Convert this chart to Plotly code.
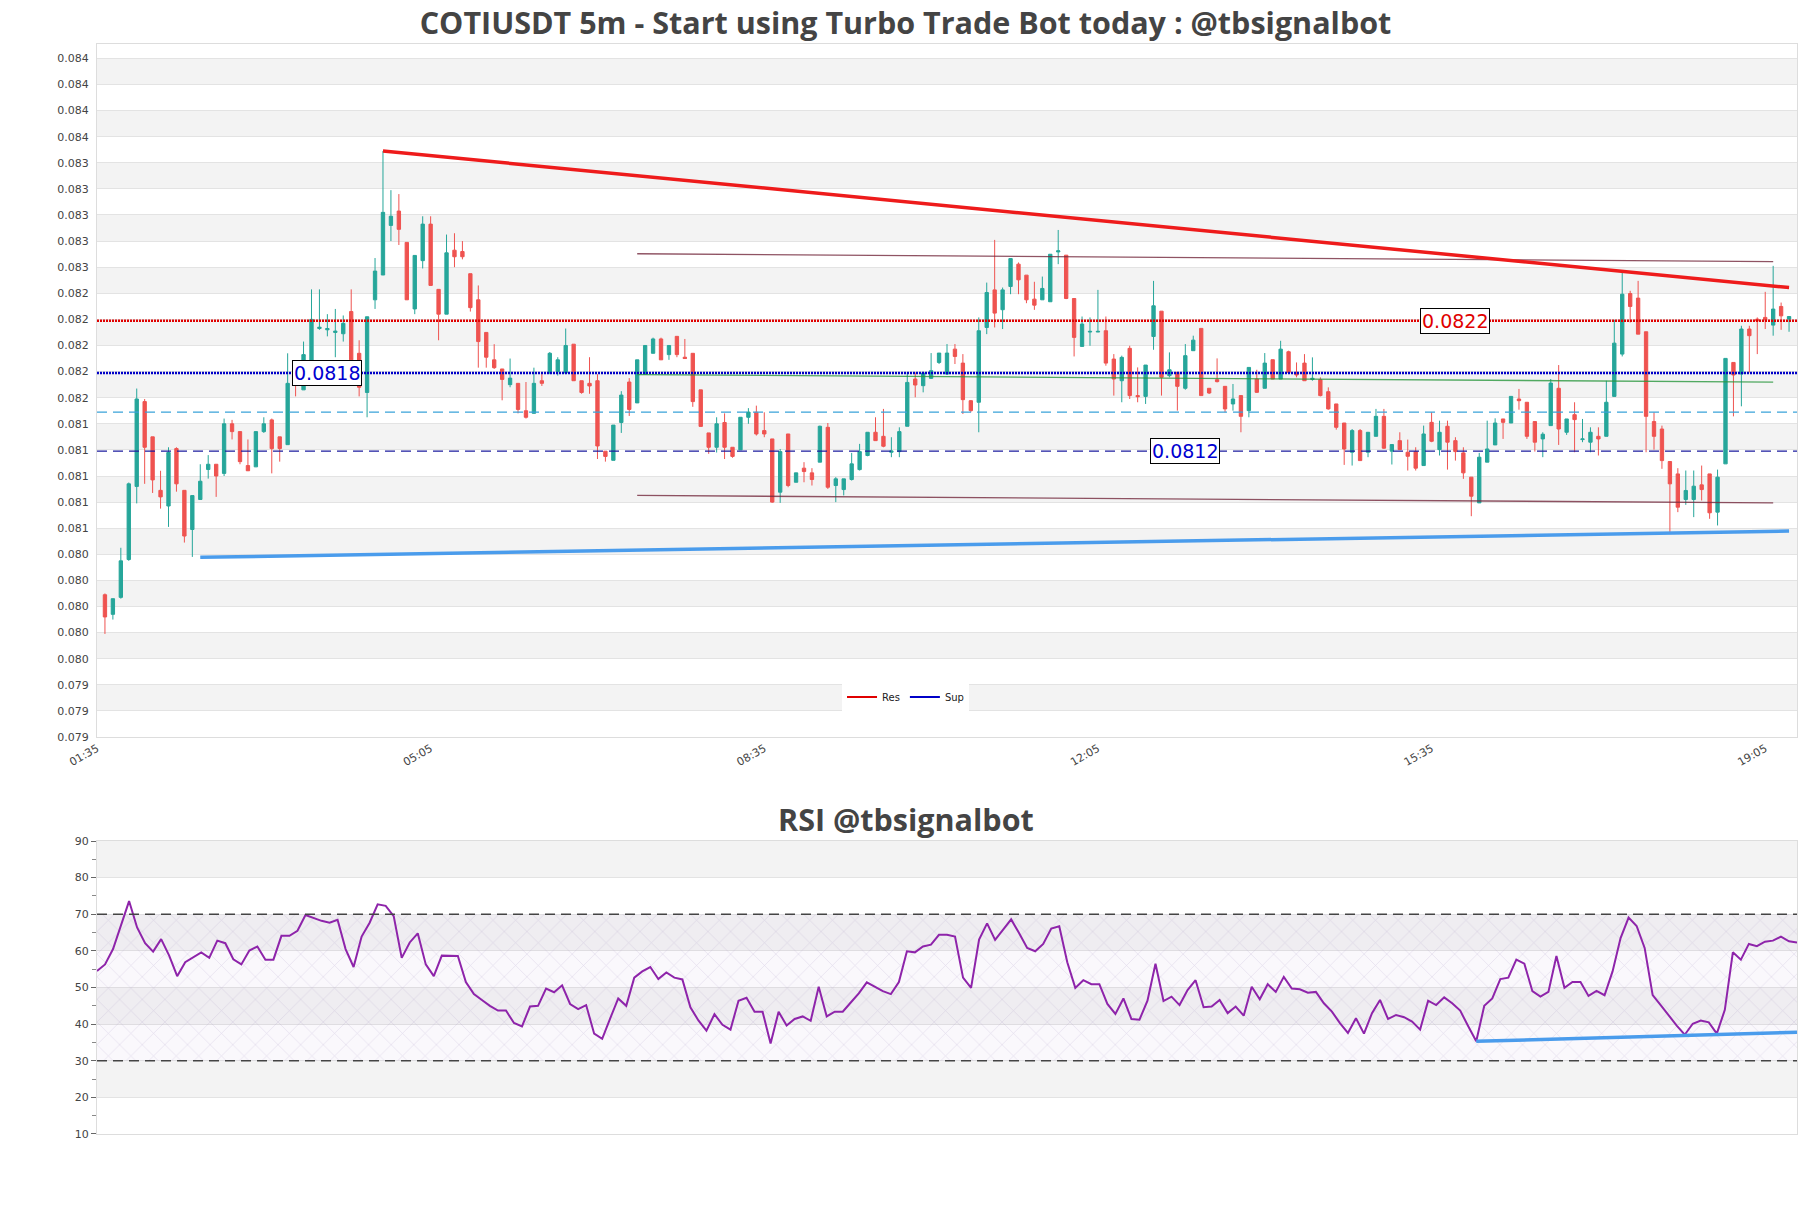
import pandas as pd
import plotly.graph_objects as go

# ---------------- data ----------------
DAY = "2024-01-01 "
FIRST_CANDLE = "01:40"
OPEN = [0.08009, 0.07994, 0.08007, 0.08036, 0.08092, 0.08157, 0.08130, 0.08089, 0.08077, 0.08121,
        0.08089, 0.08059, 0.08082, 0.08105, 0.08109, 0.08102, 0.08140, 0.08134, 0.08108, 0.08107,
        0.08134, 0.08143, 0.08130, 0.08124, 0.08174, 0.08166, 0.08187, 0.08213, 0.08212, 0.08210,
        0.08209, 0.08226, 0.08194, 0.08164, 0.08235, 0.08254, 0.08292, 0.08303, 0.08279, 0.08228,
        0.08265, 0.08293, 0.08243, 0.08224, 0.08273, 0.08272, 0.08255, 0.08235, 0.08210, 0.08189,
        0.08182, 0.08170, 0.08171, 0.08150, 0.08148, 0.08173, 0.08179, 0.08180, 0.08179, 0.08201,
        0.08173, 0.08171, 0.08173, 0.08119, 0.08112, 0.08141, 0.08172, 0.08156, 0.08178, 0.08194,
        0.08205, 0.08193, 0.08207, 0.08191, 0.08194, 0.08166, 0.08133, 0.08122, 0.08141, 0.08122,
        0.08120, 0.08145, 0.081488, 0.081348, 0.081284, 0.080876, 0.081322, 0.080952, 0.081060, 0.081024,
        0.081106, 0.081373, 0.080927, 0.080896, 0.080973, 0.081049, 0.081157, 0.081335, 0.081304, 0.081182,
        0.081187, 0.081381, 0.081743, 0.081692, 0.081748, 0.081870, 0.081781, 0.081972, 0.081865, 0.081577,
        0.081565, 0.082138, 0.082426, 0.082274, 0.082452, 0.082623, 0.082539, 0.082355, 0.082350, 0.082335,
        0.082717, 0.082692, 0.082360, 0.081993, 0.082103, 0.082103, 0.082113, 0.081896, 0.081730, 0.081978,
        0.081616, 0.081610, 0.082069, 0.082263, 0.081769, 0.081794, 0.081672, 0.081960, 0.082131, 0.081672,
        0.081738, 0.081687, 0.081552, 0.081616, 0.081501, 0.081743, 0.081672, 0.081891, 0.081743, 0.081952,
        0.081794, 0.081865, 0.081740, 0.081738, 0.081646, 0.081552, 0.081406, 0.081182, 0.081348, 0.081182,
        0.081304, 0.081457, 0.081190, 0.081271, 0.081182, 0.081187, 0.081080, 0.081411, 0.081202, 0.081381,
        0.081271, 0.081177, 0.080991, 0.080794, 0.081106, 0.081238, 0.081437, 0.081406, 0.081590, 0.081565,
        0.081417, 0.081284, 0.081386, 0.081672, 0.081335, 0.081470, 0.081279, 0.081259, 0.081304, 0.081304,
        0.081610, 0.081934, 0.082398, 0.082363, 0.082105, 0.081417, 0.081360, 0.081111, 0.081016, 0.080820,
        0.080820, 0.080932, 0.081016, 0.080723, 0.081093, 0.081870, 0.081781, 0.082126, 0.082202, 0.082215,
        0.082156, 0.082299, 0.082202]
HIGH = [0.08010, 0.08006, 0.08045, 0.08095, 0.08167, 0.08159, 0.08130, 0.08104, 0.08122, 0.08122,
        0.08089, 0.08085, 0.08109, 0.08116, 0.08109, 0.08144, 0.08143, 0.08134, 0.08128, 0.08134,
        0.08145, 0.08144, 0.08130, 0.08194, 0.08178, 0.08203, 0.08243, 0.08243, 0.08224, 0.08228,
        0.08223, 0.08243, 0.08204, 0.08222, 0.08267, 0.08349, 0.08319, 0.08316, 0.08279, 0.08269,
        0.08299, 0.08299, 0.08243, 0.08285, 0.08286, 0.08280, 0.08255, 0.08246, 0.08210, 0.08201,
        0.08182, 0.08190, 0.08171, 0.08172, 0.08183, 0.08179, 0.08195, 0.08191, 0.08213, 0.08201,
        0.08173, 0.08191, 0.08178, 0.08119, 0.08139, 0.08165, 0.08175, 0.08189, 0.08200, 0.08206,
        0.08206, 0.08200, 0.08207, 0.08205, 0.08194, 0.08166, 0.08133, 0.08145, 0.08148, 0.08122,
        0.08145, 0.08152, 0.081539, 0.081488, 0.081284, 0.081207, 0.081322, 0.081024, 0.081106, 0.081060,
        0.081386, 0.081406, 0.080991, 0.080978, 0.081177, 0.081246, 0.081335, 0.081450, 0.081514, 0.081297,
        0.081373, 0.081794, 0.081794, 0.081799, 0.081942, 0.081942, 0.082011, 0.082011, 0.081934, 0.081582,
        0.082215, 0.082482, 0.082809, 0.082444, 0.082666, 0.082636, 0.082539, 0.082488, 0.082528, 0.082699,
        0.082885, 0.082692, 0.082360, 0.082222, 0.082215, 0.082426, 0.082222, 0.081934, 0.081922, 0.081998,
        0.081832, 0.081850, 0.082495, 0.082263, 0.081947, 0.081794, 0.082011, 0.082075, 0.082131, 0.081672,
        0.081901, 0.081687, 0.081705, 0.081616, 0.081832, 0.081814, 0.081942, 0.081891, 0.082036, 0.081960,
        0.081870, 0.081934, 0.081909, 0.081756, 0.081679, 0.081552, 0.081406, 0.081360, 0.081360, 0.081335,
        0.081514, 0.081514, 0.081241, 0.081335, 0.081279, 0.081220, 0.081386, 0.081488, 0.081424, 0.081424,
        0.081297, 0.081220, 0.080991, 0.081177, 0.081424, 0.081442, 0.081437, 0.081610, 0.081667, 0.081565,
        0.081417, 0.081335, 0.081743, 0.081850, 0.081437, 0.081565, 0.081437, 0.081373, 0.081373, 0.081730,
        0.082197, 0.082572, 0.082419, 0.082495, 0.082105, 0.081488, 0.081386, 0.081111, 0.081060, 0.081042,
        0.081042, 0.081080, 0.081016, 0.081049, 0.081901, 0.081870, 0.082151, 0.082151, 0.082215, 0.082411,
        0.082610, 0.082329, 0.082222]
LOW = [0.07979, 0.07990, 0.08006, 0.08035, 0.08079, 0.08094, 0.08087, 0.08075, 0.08061, 0.08088,
       0.08049, 0.08038, 0.08082, 0.08098, 0.08084, 0.08100, 0.08128, 0.08109, 0.08104, 0.08107,
       0.08133, 0.08102, 0.08111, 0.08124, 0.08161, 0.08166, 0.08187, 0.08212, 0.08207, 0.08191,
       0.08203, 0.08189, 0.08161, 0.08145, 0.08228, 0.08254, 0.08280, 0.08277, 0.08235, 0.08224,
       0.08259, 0.08246, 0.08204, 0.08224, 0.08260, 0.08266, 0.08226, 0.08183, 0.08183, 0.08182,
       0.08158, 0.08168, 0.08148, 0.08144, 0.08148, 0.08169, 0.08178, 0.08177, 0.08178, 0.08173,
       0.08163, 0.08163, 0.08113, 0.08111, 0.08112, 0.08133, 0.08146, 0.08156, 0.08178, 0.08194,
       0.08189, 0.08189, 0.08191, 0.08190, 0.08153, 0.08138, 0.08117, 0.08118, 0.08113, 0.08114,
       0.08120, 0.08140, 0.081310, 0.081297, 0.080794, 0.080794, 0.080914, 0.080952, 0.080952, 0.080927,
       0.081106, 0.080901, 0.080800, 0.080851, 0.080965, 0.081042, 0.081151, 0.081271, 0.081220, 0.081144,
       0.081144, 0.081381, 0.081603, 0.081641, 0.081743, 0.081858, 0.081774, 0.081858, 0.081475, 0.081488,
       0.081335, 0.082087, 0.082138, 0.082126, 0.082393, 0.082393, 0.082324, 0.082273, 0.082350, 0.082335,
       0.082623, 0.082355, 0.081916, 0.081993, 0.081998, 0.082103, 0.081845, 0.081616, 0.081565, 0.081590,
       0.081565, 0.081552, 0.081967, 0.081616, 0.081756, 0.081501, 0.081661, 0.081960, 0.081616, 0.081628,
       0.081717, 0.081488, 0.081501, 0.081335, 0.081450, 0.081636, 0.081672, 0.081743, 0.081743, 0.081781,
       0.081756, 0.081730, 0.081730, 0.081610, 0.081508, 0.081355, 0.081085, 0.081080, 0.081118, 0.081144,
       0.081304, 0.081207, 0.081088, 0.081202, 0.081042, 0.081042, 0.081080, 0.081259, 0.081157, 0.081049,
       0.081118, 0.080978, 0.080692, 0.080794, 0.081106, 0.081238, 0.081284, 0.081406, 0.081508, 0.081284,
       0.081187, 0.081144, 0.081386, 0.081238, 0.081315, 0.081182, 0.081259, 0.081182, 0.081157, 0.081304,
       0.081610, 0.081916, 0.082176, 0.082087, 0.081182, 0.081202, 0.081055, 0.080557, 0.080723, 0.080779,
       0.080685, 0.080812, 0.080672, 0.080621, 0.081093, 0.081457, 0.081534, 0.081794, 0.081934, 0.082126,
       0.082075, 0.082120, 0.082105]
CLOSE = [0.07992, 0.08006, 0.08035, 0.08094, 0.08159, 0.08122, 0.08097, 0.08084, 0.08118, 0.08094,
         0.08054, 0.08085, 0.08096, 0.08109, 0.08100, 0.08140, 0.08134, 0.08111, 0.08104, 0.08134,
         0.08140, 0.08121, 0.08121, 0.08171, 0.08170, 0.08193, 0.08220, 0.08214, 0.08213, 0.08211,
         0.08217, 0.08189, 0.08168, 0.08222, 0.08257, 0.08302, 0.08299, 0.08289, 0.08235, 0.08269,
         0.08293, 0.08246, 0.08224, 0.08271, 0.08268, 0.08268, 0.08229, 0.08203, 0.08191, 0.08183,
         0.08174, 0.08175, 0.08151, 0.08145, 0.08171, 0.08171, 0.08194, 0.08189, 0.08200, 0.08173,
         0.08164, 0.08169, 0.08123, 0.08115, 0.08139, 0.08162, 0.08151, 0.08189, 0.08200, 0.08205,
         0.08189, 0.08200, 0.08193, 0.08190, 0.08157, 0.08138, 0.08122, 0.08140, 0.08122, 0.08115,
         0.08145, 0.08149, 0.081322, 0.081322, 0.080800, 0.081187, 0.080927, 0.081024, 0.081034, 0.080973,
         0.081381, 0.080914, 0.080978, 0.080978, 0.081093, 0.081187, 0.081335, 0.081271, 0.081228, 0.081192,
         0.081340, 0.081717, 0.081697, 0.081789, 0.081807, 0.081942, 0.081942, 0.081916, 0.081585, 0.081501,
         0.082113, 0.082406, 0.082248, 0.082426, 0.082666, 0.082503, 0.082350, 0.082309, 0.082437, 0.082699,
         0.082725, 0.082360, 0.082062, 0.082164, 0.082108, 0.082108, 0.081865, 0.081743, 0.081909, 0.081616,
         0.081608, 0.081850, 0.082304, 0.081756, 0.081814, 0.081687, 0.081922, 0.082041, 0.081616, 0.081636,
         0.081723, 0.081514, 0.081590, 0.081457, 0.081832, 0.081641, 0.081865, 0.081743, 0.081972, 0.081794,
         0.081774, 0.081730, 0.081748, 0.081616, 0.081514, 0.081373, 0.081207, 0.081348, 0.081118, 0.081335,
         0.081457, 0.081213, 0.081241, 0.081202, 0.081151, 0.081060, 0.081322, 0.081266, 0.081335, 0.081259,
         0.081187, 0.081024, 0.080845, 0.081144, 0.081207, 0.081406, 0.081411, 0.081610, 0.081577, 0.081304,
         0.081259, 0.081320, 0.081712, 0.081360, 0.081437, 0.081432, 0.081284, 0.081335, 0.081284, 0.081565,
         0.082018, 0.082393, 0.082299, 0.082087, 0.081457, 0.081304, 0.081118, 0.080940, 0.080761, 0.080889,
         0.080922, 0.080896, 0.080718, 0.080991, 0.081901, 0.081774, 0.082126, 0.082075, 0.082189, 0.082197,
         0.082279, 0.082227, 0.082222]
RSI = [54.5, 56.3, 60.5, 67.3, 73.6, 66.4, 62.1, 59.8, 63.2, 58.7,
       53.1, 56.9, 58.3, 59.6, 58.1, 62.8, 62.1, 57.7, 56.3, 60.1,
       61.2, 57.6, 57.6, 64.1, 64.1, 65.5, 69.8, 68.9, 68.2, 67.7,
       68.5, 60.5, 55.6, 63.9, 67.7, 72.7, 72.3, 69.5, 58.1, 62.3,
       64.8, 56.3, 53.1, 58.7, 58.6, 58.6, 51.5, 48.2, 46.6, 45.0,
       43.7, 43.7, 40.3, 39.4, 44.8, 45.0, 49.7, 48.7, 50.6, 45.5,
       44.1, 45.2, 37.4, 36.0, 41.6, 47.0, 45.0, 52.7, 54.4, 55.6,
       52.3, 54.1, 52.7, 52.2, 44.6, 41.0, 38.2, 42.7, 39.8, 38.5,
       46.4, 47.2, 43.4, 43.4, 34.7, 43.4, 39.6, 41.4, 42.1, 40.9,
       50.2, 42.1, 43.4, 43.4, 45.9, 48.4, 51.4, 50.2, 49.0, 48.2,
       51.5, 59.9, 59.6, 61.2, 61.7, 64.4, 64.4, 63.9, 52.7, 49.9,
       63.1, 67.5, 63.0, 65.8, 68.6, 64.8, 60.8, 59.9, 61.9, 66.1,
       66.7, 56.9, 49.9, 52.0, 50.9, 50.9, 45.5, 42.8, 47.0, 41.4,
       41.2, 46.4, 56.5, 46.3, 47.5, 45.2, 49.3, 52.0, 44.6, 44.8,
       46.6, 43.0, 44.8, 42.3, 50.2, 46.8, 50.9, 48.8, 52.9, 49.7,
       49.5, 48.6, 48.8, 45.7, 43.4, 40.3, 37.6, 41.6, 37.4, 43.0,
       46.6, 41.4, 42.5, 41.9, 40.7, 38.5, 46.4, 45.2, 47.3, 45.7,
       43.7, 39.4, 35.3, 45.0, 47.0, 52.3, 52.7, 57.6, 56.5, 49.0,
       47.5, 48.8, 58.6, 49.9, 51.5, 51.5, 47.7, 49.1, 47.9, 54.4,
       63.5, 69.1, 66.8, 60.8, 47.9, 45.2, 42.3, 39.6, 37.1, 40.1,
       41.0, 40.5, 37.4, 43.9, 59.6, 57.6, 61.9, 61.3, 62.5, 62.8,
       63.9, 62.6, 62.3]

TICK_LABELS = ["01:35", "05:05", "08:35", "12:05", "15:35", "19:05"]
PRICE_TICKS = [round(0.0790 + 0.0002 * k, 4) for k in range(27)]
RSI_TICKS = [10, 20, 30, 40, 50, 60, 70, 80, 90]

RES_LEVEL = 0.08219
SUP_LEVEL = 0.08179
MID_LEVEL = 0.08149
LOW_LEVEL = 0.08119
LABELS = [("0.0822", "15:50", RES_LEVEL, "#e00000"),
          ("0.0818", "04:00", SUP_LEVEL, "#0000d0"),
          ("0.0812", "13:00", LOW_LEVEL, "#0000d0")]

RES_TREND = (["04:35", "19:20"], [0.08349, 0.082444])
SUP_TREND = (["02:40", "19:20"], [0.080377, 0.080578])
CH_UPPER = (["07:15", "19:10"], [0.082703, 0.082643])
CH_MID = (["07:15", "19:10"], [0.081777, 0.081719])
CH_LOWER = (["07:15", "19:10"], [0.080851, 0.080794])
RSI_TREND = (["16:00", "19:20"], [35.3, 37.8])
RSI_BANDS = (30, 70)

X_RANGE = ["01:35", "19:25"]

# ---------------- figure ----------------
def t(hm):
    return pd.Timestamp(DAY + hm)

times = pd.date_range(DAY + FIRST_CANDLE, periods=len(OPEN), freq="5min")
x0, x1 = t(X_RANGE[0]), t(X_RANGE[1])
r0, r1 = times[0], times[-1]

fig = go.Figure()

fig.add_trace(go.Candlestick(
    x=times, open=OPEN, high=HIGH, low=LOW, close=CLOSE,
    increasing=dict(line=dict(color="#26a69a", width=1), fillcolor="#26a69a"),
    decreasing=dict(line=dict(color="#ef5350", width=1), fillcolor="#ef5350"),
    whiskerwidth=0, showlegend=False, xaxis="x", yaxis="y"))

def hline(level, color, dash, width):
    fig.add_trace(go.Scatter(x=[x0, x1], y=[level, level], mode="lines",
                             line=dict(color=color, dash=dash, width=width),
                             showlegend=False, hoverinfo="skip", xaxis="x", yaxis="y"))

hline(RES_LEVEL, "#e00000", "2px,1px", 2.5)
hline(SUP_LEVEL, "#0000c8", "2px,1px", 2.5)
hline(MID_LEVEL, "#3aa3d9", "10px,6px", 1.3)
hline(LOW_LEVEL, "#1c1c9e", "10px,6px", 1.3)

# legend entries (solid short lines as in the reference)
for nm, col in (("Res", "#e00000"), ("Sup", "#0000c8")):
    fig.add_trace(go.Scatter(x=[None], y=[None], mode="lines", name=nm,
                             line=dict(color=col, width=2), xaxis="x", yaxis="y"))

def seg(pair, color, width, xa="x", ya="y"):
    fig.add_trace(go.Scatter(x=[t(h) for h in pair[0]], y=pair[1], mode="lines",
                             line=dict(color=color, width=width), showlegend=False,
                             hoverinfo="skip", xaxis=xa, yaxis=ya))

seg(CH_UPPER, "rgba(115,40,60,0.8)", 1.3)
seg(CH_LOWER, "rgba(115,40,60,0.8)", 1.3)
seg(CH_MID, "rgba(40,150,60,0.8)", 1.3)
seg(RES_TREND, "#ee1b1b", 3.5)
seg(SUP_TREND, "#4a9cec", 3.5)

# RSI panel
fig.add_trace(go.Scatter(x=[r0, r1, r1, r0, r0],
                         y=[RSI_BANDS[0], RSI_BANDS[0], RSI_BANDS[1], RSI_BANDS[1], RSI_BANDS[0]],
                         fill="toself", mode="none", fillcolor="rgba(150,120,190,0.05)",
                         fillpattern=dict(shape="x", size=16, solidity=0.07,
                                          fgcolor="rgba(160,140,190,0.6)",
                                          bgcolor="rgba(150,120,190,0.05)"),
                         showlegend=False, hoverinfo="skip", xaxis="x2", yaxis="y2"))
fig.add_trace(go.Scatter(x=times, y=RSI, mode="lines", line=dict(color="#8e24aa", width=2),
                         showlegend=False, xaxis="x2", yaxis="y2"))
seg(RSI_TREND, "#4a9cec", 3.5, "x2", "y2")

shapes = []
for k in range(len(PRICE_TICKS) - 1):
    if k % 2 == 1:
        shapes.append(dict(type="rect", xref="x domain", x0=0, x1=1, yref="y",
                           y0=PRICE_TICKS[k], y1=PRICE_TICKS[k + 1],
                           fillcolor="#f3f3f3", line=dict(width=0), layer="below"))
for k in range(len(RSI_TICKS) - 1):
    if k % 2 == 1:
        shapes.append(dict(type="rect", xref="x2 domain", x0=0, x1=1, yref="y2",
                           y0=RSI_TICKS[k], y1=RSI_TICKS[k + 1],
                           fillcolor="#f3f3f3", line=dict(width=0), layer="below"))
for lv in RSI_BANDS:
    shapes.append(dict(type="line", xref="x2 domain", x0=0, x1=1, yref="y2", y0=lv, y1=lv,
                       line=dict(color="#444444", width=1.3, dash="10px,6px")))

annotations = []
for text, hm, lv, col in LABELS:
    annotations.append(dict(x=t(hm), y=lv, xref="x", yref="y", text=text, showarrow=False,
                            font=dict(family="DejaVu Sans", size=19, color=col),
                            bgcolor="white", bordercolor="black", borderwidth=1, borderpad=1))
annotations.append(dict(x=0.4756, y=0.289, xref="paper", yref="paper",
                        text="<b>RSI @tbsignalbot</b>", showarrow=False,
                        font=dict(family="Open Sans", size=30.5, color="#444444"),
                        xanchor="center", yanchor="middle"))

tickfont = dict(family="DejaVu Sans", size=11, color="#444444")
axis_common = dict(showline=True, mirror=True, linecolor="#dddddd", linewidth=1)

fig.update_layout(
    width=1811, height=1208, autosize=False,
    margin=dict(l=97, r=14, t=44, b=74),
    paper_bgcolor="white", plot_bgcolor="white",
    title=dict(text="<b>COTIUSDT 5m - Start using Turbo Trade Bot today : @tbsignalbot</b>",
               x=0.5, xanchor="center", y=1 - 23 / 1208, yanchor="middle",
               font=dict(family="Open Sans", size=30.5, color="#444444")),
    boxgap=0.4,
    xaxis=dict(domain=[0, 1], anchor="y", range=[x0, x1], rangeslider=dict(visible=False),
               tickvals=[t(s) for s in TICK_LABELS], ticktext=TICK_LABELS, tickangle=-30,
               tickfont=tickfont, showgrid=False, ticks="", **axis_common),
    yaxis=dict(domain=[0.3642, 1], anchor="x", range=[0.07900, 0.08431],
               tickvals=PRICE_TICKS, ticktext=[f"{v:.3f}" for v in PRICE_TICKS],
               tickfont=tickfont, showgrid=True, gridcolor="#e3e3e3", gridwidth=1,
               zeroline=False, ticks="", ticklabelstandoff=5, **axis_common),
    xaxis2=dict(domain=[0, 1], anchor="y2", range=[r0, r1], showticklabels=False,
                showgrid=False, ticks="", **axis_common),
    yaxis2=dict(domain=[0, 0.2688], anchor="x2", range=[10, 90], tickvals=RSI_TICKS,
                tickfont=dict(family="DejaVu Sans", size=11, color="#444444"),
                ticks="outside", ticklen=5, tickcolor="#666666",
                minor=dict(dtick=5, ticklen=4, tickcolor="#888888", ticks="outside", showgrid=False),
                showgrid=True, gridcolor="#e3e3e3", zeroline=False, **axis_common),
    legend=dict(orientation="h", x=0.4756, xanchor="center", y=0.401, yanchor="middle",
                bgcolor="white", font=dict(family="DejaVu Sans", size=10, color="#222222"),
                itemwidth=30, tracegroupgap=0),
    shapes=shapes, annotations=annotations,
    hovermode=False,
)

fig.write_html("out.html")
